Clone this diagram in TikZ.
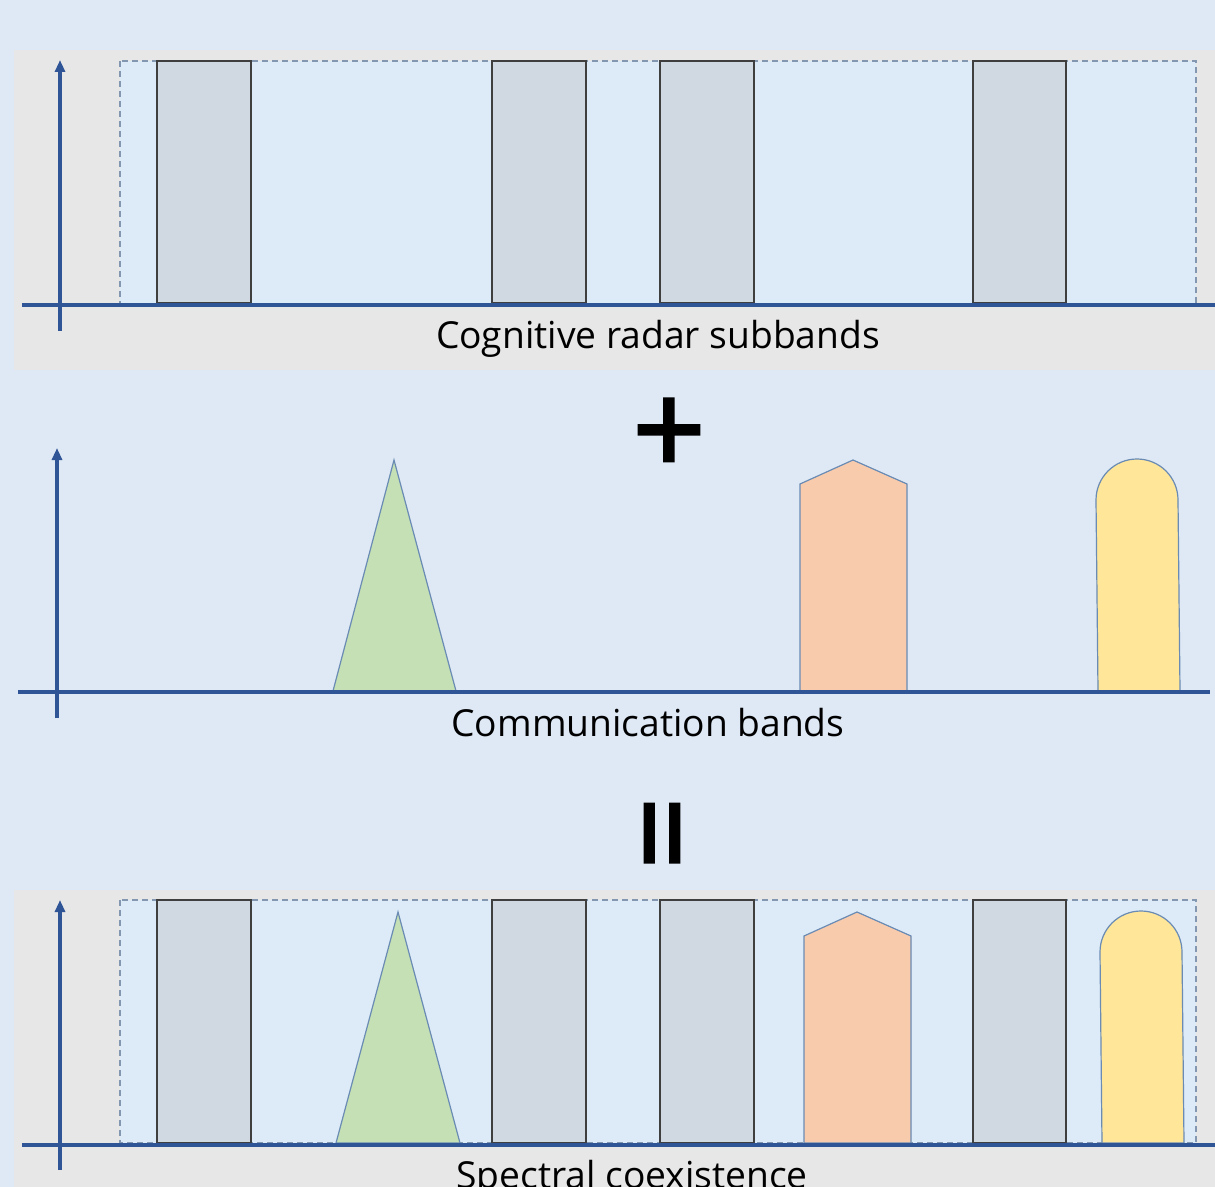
\documentclass[tikz,border=0pt]{standalone}
\usepackage{fontspec}
\setmainfont{Open Sans}
\newfontfamily\symfnt[FakeBold=2.2]{Open Sans}
\usetikzlibrary{arrows.meta}
\definecolor{bgblue}{HTML}{DEE9F5}
\definecolor{panelgray}{HTML}{E7E7E7}
\definecolor{bandblue}{HTML}{DDEBF8}
\definecolor{dashcol}{HTML}{8497B0}
\definecolor{radarfill}{HTML}{D0D8E2}
\definecolor{radarline}{HTML}{3F3F3F}
\definecolor{axiscol}{HTML}{2F5597}
\definecolor{shapeline}{HTML}{6A8BB3}
\definecolor{greenfill}{HTML}{C5E0B4}
\definecolor{orangefill}{HTML}{F8CBAD}
\definecolor{yellowfill}{HTML}{FFE699}
\tikzset{
  panel/.style={fill=panelgray, draw=none},
  bandarea/.style={fill=bandblue, draw=dashcol, dashed, line width=0.7pt, dash pattern=on 3pt off 2pt},
  radar/.style={fill=radarfill, draw=radarline, line width=0.8pt},
  axis/.style={draw=axiscol, line width=1.8pt},
  yaxis/.style={axis, -{Triangle[length=6pt,width=5pt]}},
  comm/.style={draw=shapeline, line width=0.6pt},
  caption/.style={font=\fontsize{18.6}{22}\selectfont, inner sep=0pt, anchor=base},
  bigsym/.style={font=\symfnt\fontsize{64}{64}\selectfont, inner sep=0pt}
}
\begin{document}
\begin{tikzpicture}[x=0.5pt, y=-0.5pt]
\useasboundingbox[fill=bgblue] (0,0) rectangle (1215,1187);
% ---------- panel 1 ----------
\path[panel] (14,50) rectangle (1215,370);
\path[bandarea] (120,61) rectangle (1196,304);
\foreach \a/\b [count=\i] in {157/251, 492/586, 660/754, 973/1066}
  \draw[radar] (\a,61) rectangle (\b,303);
\coordinate (y1s) at (60,331); \coordinate (y1e) at (60,60);
\coordinate (x1s) at (22,305); \coordinate (x1e) at (1215,305);
\draw[yaxis] (y1s) -- (y1e);
\draw[axis] (x1s) -- (x1e);
\node[caption] (cap1) at (658,349) {Cognitive radar subbands};
% plus
\node[bigsym] (plus) at (669,437) {+};
% ---------- panel 2 ----------
\coordinate (y2s) at (57,718); \coordinate (y2e) at (57,448);
\coordinate (x2s) at (18,692); \coordinate (x2e) at (1210,692);
\draw[comm, fill=greenfill] (333,691) -- (394,460) -- (456,691) -- cycle;
\draw[comm, fill=orangefill] (800,691) -- (800,484) -- (853,460) -- (907,484) -- (907,691) -- cycle;
\draw[comm, fill=yellowfill] (1098,691) -- (1096,500) arc[start angle=180, end angle=0, x radius=41, y radius=-41] -- (1180,691) -- cycle;
\draw[yaxis] (y2s) -- (y2e);
\draw[axis] (x2s) -- (x2e);
\node[caption] (cap2) at (648,736) {Communication bands};
% equals
\node[bigsym, rotate=90] (eq) at (676,833) {=};
% ---------- panel 3 ----------
\path[panel] (14,890) rectangle (1215,1187);
\path[bandarea] (120,900) rectangle (1196,1143);
\foreach \a/\b in {157/251, 492/586, 660/754, 973/1066}
  \draw[radar] (\a,900) rectangle (\b,1143);
\draw[comm, fill=greenfill] (336,1143) -- (398,912) -- (460,1143) -- cycle;
\draw[comm, fill=orangefill] (804,1143) -- (804,936) -- (857,912) -- (911,936) -- (911,1143) -- cycle;
\draw[comm, fill=yellowfill] (1102,1143) -- (1100,952) arc[start angle=180, end angle=0, x radius=41, y radius=-41] -- (1184,1143) -- cycle;
\coordinate (y3s) at (60,1170); \coordinate (y3e) at (60,900);
\coordinate (x3s) at (22,1145); \coordinate (x3e) at (1215,1145);
\draw[yaxis] (y3s) -- (y3e);
\draw[axis] (x3s) -- (x3e);
\node[caption] (cap3) at (632,1188) {Spectral coexistence};
\end{tikzpicture}
\end{document}
